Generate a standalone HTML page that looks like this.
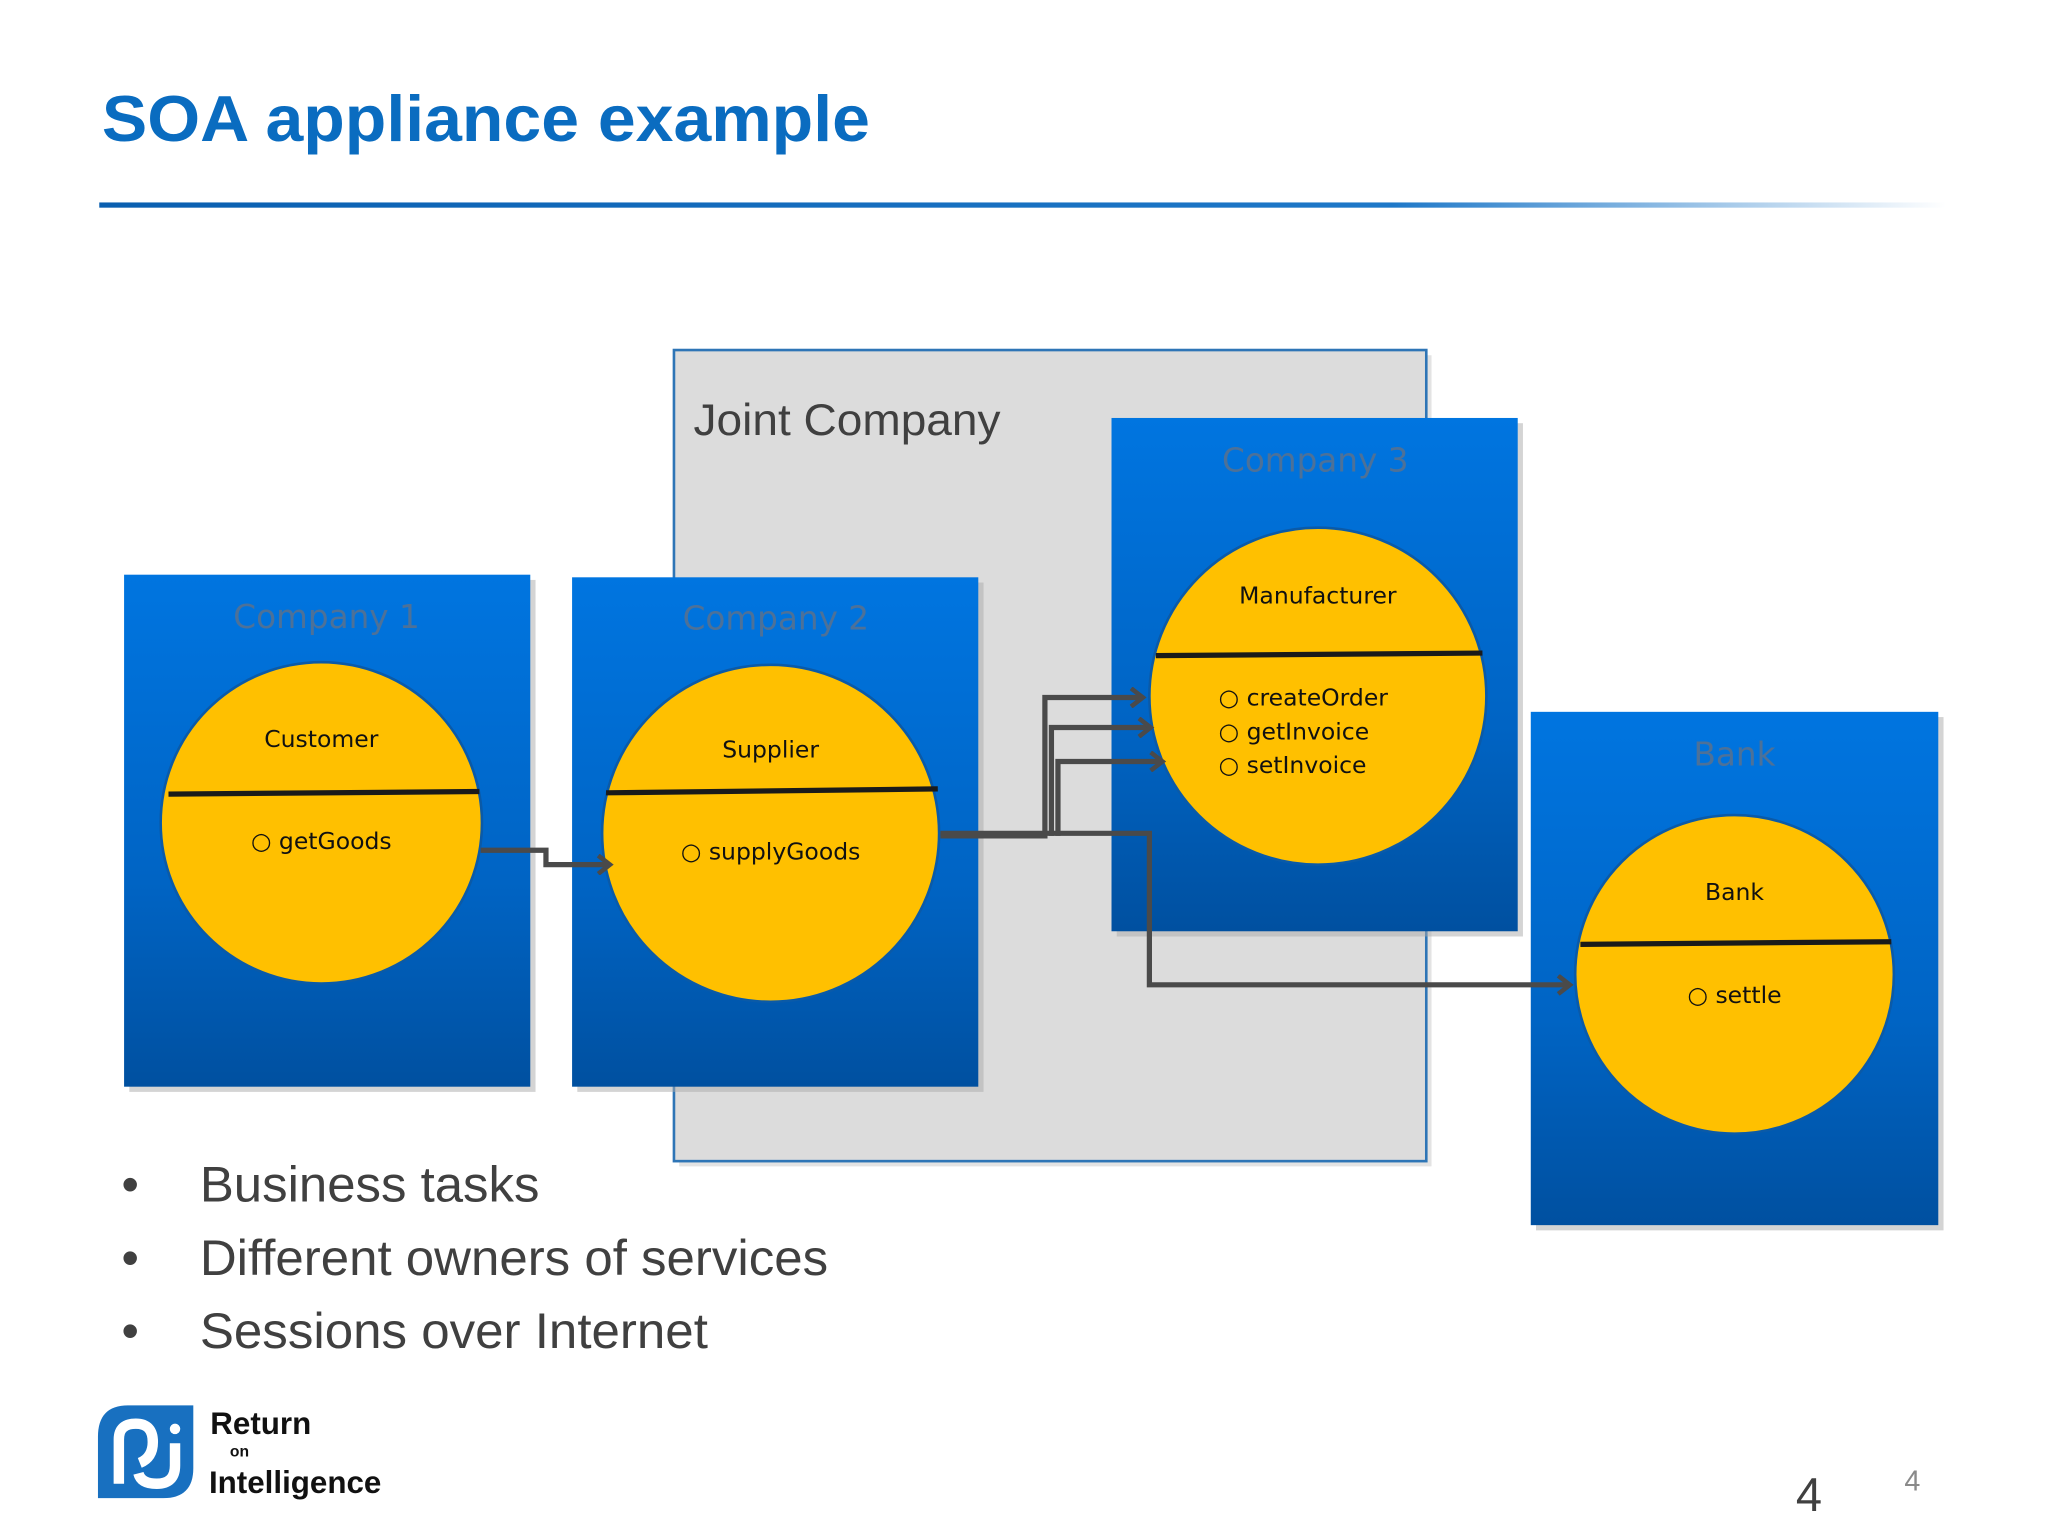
<!DOCTYPE html>
<html><head><meta charset="utf-8"><style>html,body{margin:0;padding:0;background:#fff}svg{display:block}</style></head>
<body>
<svg width="2048" height="1536" viewBox="0 0 1568 1176" xmlns="http://www.w3.org/2000/svg" font-family="Liberation Sans, sans-serif">
<defs>
<linearGradient id="bl" x1="0" y1="0" x2="0" y2="1"><stop offset="0" stop-color="#0075e0"/><stop offset="0.6" stop-color="#0064c4"/><stop offset="1" stop-color="#0050a0"/></linearGradient>
<linearGradient id="hl" x1="0" y1="0" x2="1" y2="0"><stop offset="0" stop-color="#0a5fb0"/><stop offset="0.7" stop-color="#1e78c8"/><stop offset="1" stop-color="#1e78c8" stop-opacity="0"/></linearGradient>
<marker id="ar" markerWidth="14" markerHeight="16" refX="10" refY="8" orient="auto" markerUnits="userSpaceOnUse"><path d="M2,1 L11,8 L2,15" fill="none" stroke="#4a4a4a" stroke-width="3.5"/></marker>
</defs>
<text x="78" y="108" font-size="50" font-weight="bold" fill="#0a6cc0" textLength="588" lengthAdjust="spacingAndGlyphs">SOA appliance example</text>
<rect x="76" y="155" width="1414" height="4" fill="url(#hl)"/>
<rect x="520" y="272" width="576" height="621" fill="#c8c8c8" opacity="0.5"/>
<rect x="516" y="268" width="576" height="621" fill="#dcdcdc" stroke="#2e75b6" stroke-width="2"/>
<text x="531" y="333" font-size="34" fill="#404040" textLength="235" lengthAdjust="spacingAndGlyphs">Joint Company</text>
<g font-family="DejaVu Sans, sans-serif">
<rect x="99" y="444" width="311" height="392" fill="#aaa" opacity="0.5"/>
<rect x="95" y="440" width="311" height="392" fill="url(#bl)"/>
<text x="250" y="481" font-size="25" fill="#4d7198" text-anchor="middle">Company 1</text>
<circle cx="246" cy="630" r="123" fill="#ffc000" stroke="#0a5aa8" stroke-width="2"/>
<text x="246" y="572" font-size="18" text-anchor="middle" fill="#111">Customer</text>
<line x1="129" y1="608" x2="367" y2="606" stroke="#1a1a1a" stroke-width="4"/>
<text x="246" y="650" font-size="18" text-anchor="middle" fill="#111">○ getGoods</text>

<rect x="442" y="446" width="311" height="390" fill="#aaa" opacity="0.5"/>
<rect x="438" y="442" width="311" height="390" fill="url(#bl)"/>
<text x="594" y="482" font-size="25" fill="#4d7198" text-anchor="middle">Company 2</text>
<circle cx="590" cy="638" r="129" fill="#ffc000" stroke="#0a5aa8" stroke-width="2"/>
<text x="590" y="580" font-size="18" text-anchor="middle" fill="#111">Supplier</text>
<line x1="464" y1="607" x2="718" y2="604" stroke="#1a1a1a" stroke-width="4"/>
<text x="590" y="658" font-size="18" text-anchor="middle" fill="#111">○ supplyGoods</text>

<rect x="855" y="324" width="311" height="393" fill="#aaa" opacity="0.5"/>
<rect x="851" y="320" width="311" height="393" fill="url(#bl)"/>
<text x="1007" y="361" font-size="25" fill="#4d7198" text-anchor="middle">Company 3</text>
<circle cx="1009" cy="533" r="129" fill="#ffc000" stroke="#0a5aa8" stroke-width="2"/>
<text x="1009" y="462" font-size="18" text-anchor="middle" fill="#111">Manufacturer</text>
<line x1="885" y1="502" x2="1135" y2="500" stroke="#1a1a1a" stroke-width="4"/>
<text x="933" y="540" font-size="18" fill="#111">○ createOrder</text>
<text x="933" y="566" font-size="18" fill="#111">○ getInvoice</text>
<text x="933" y="592" font-size="18" fill="#111">○ setInvoice</text>

<rect x="1176" y="549" width="312" height="393" fill="#aaa" opacity="0.5"/>
<rect x="1172" y="545" width="312" height="393" fill="url(#bl)"/>
<text x="1328" y="586" font-size="25" fill="#4d7198" text-anchor="middle">Bank</text>
<circle cx="1328" cy="746" r="122" fill="#ffc000" stroke="#0a5aa8" stroke-width="2"/>
<text x="1328" y="689" font-size="18" text-anchor="middle" fill="#111">Bank</text>
<line x1="1210" y1="723" x2="1448" y2="721" stroke="#1a1a1a" stroke-width="4"/>
<text x="1328" y="768" font-size="18" text-anchor="middle" fill="#111">○ settle</text>
</g>
<g fill="none" stroke="#4a4a4a" stroke-width="4">
<polyline points="368,651 418,651 418,662 466,662" marker-end="url(#ar)"/>
<polyline points="720,640 800,640 800,534 874,534" marker-end="url(#ar)"/>
<polyline points="805,640 805,557 880,557" marker-end="url(#ar)"/>
<polyline points="810,640 810,583 889,583" marker-end="url(#ar)"/>
<polyline points="720,638 880,638 880,754 1201,754" marker-end="url(#ar)"/>
</g>
<g font-size="38" fill="#404040">
<text x="93" y="920">•</text><text x="153" y="920" textLength="260" lengthAdjust="spacingAndGlyphs">Business tasks</text>
<text x="93" y="976">•</text><text x="153" y="976" textLength="481" lengthAdjust="spacingAndGlyphs">Different owners of services</text>
<text x="93" y="1032">•</text><text x="153" y="1032" textLength="389" lengthAdjust="spacingAndGlyphs">Sessions over Internet</text>
</g>
<path d="M98,1076 H148 V1124 Q148,1147 125,1147 H75 V1100 Q75,1076 98,1076 Z" fill="#1870c0"/>
<path d="M91,1136 V1102 Q91,1090 104,1090 Q117,1090 117,1104 Q117,1116 107,1120" fill="none" stroke="#fff" stroke-width="8"/>
<path d="M134,1105 V1122 Q134,1136 120,1136 Q108,1136 106,1128" fill="none" stroke="#fff" stroke-width="8"/>
<circle cx="134" cy="1094" r="4" fill="#fff"/>
<text x="161" y="1098" font-size="24" font-weight="bold" fill="#111">Return</text>
<text x="176" y="1115" font-size="12" font-weight="bold" fill="#111">on</text>
<text x="160" y="1143" font-size="24" font-weight="bold" fill="#111">Intelligence</text>
<text x="1375" y="1157" font-size="36" fill="#404040">4</text>
<text x="1458" y="1141" font-size="22" fill="#8a8a8a">4</text>
</svg>
</body></html>
